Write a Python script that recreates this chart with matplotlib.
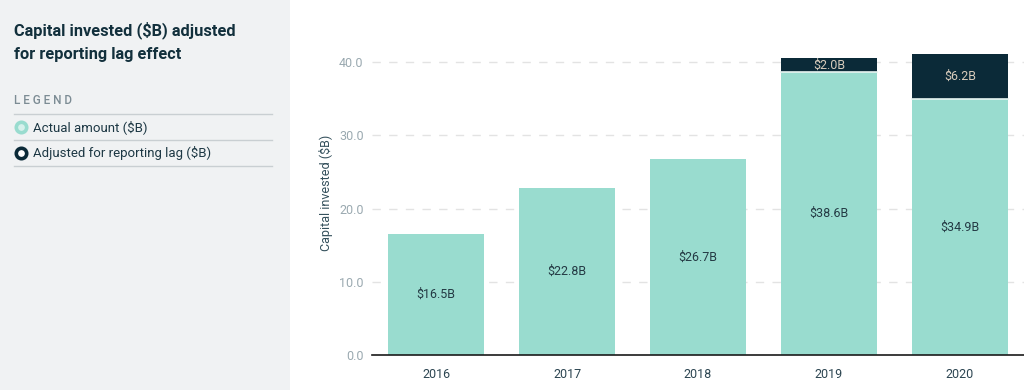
import numpy as np
import matplotlib.pyplot as plt
from matplotlib.lines import Line2D
from matplotlib.patches import Rectangle

plt.rcParams['font.family'] = ['Roboto', 'DejaVu Sans']

# data
years = ['2016', '2017', '2018', '2019', '2020']
actual = [16.5, 22.8, 26.7, 38.6, 34.9]
adjusted = [0.0, 0.0, 0.0, 2.0, 6.2]
yticks = [0.0, 10.0, 20.0, 30.0, 40.0]

teal = '#99dccf'
navy = '#0b2a38'
W, H = 1024, 390

fig = plt.figure(figsize=(W / 100, H / 100), dpi=100)
fig.patch.set_facecolor('white')

# left panel background
fig.patches.append(Rectangle((0, 0), 290 / W, 1, transform=fig.transFigure,
                             facecolor='#f0f2f3', edgecolor='none', zorder=0))

def fx(px):
    return px / W

def fy(py):
    return 1 - py / H

fig.text(fx(14), fy(30), 'Capital invested ($B) adjusted', fontsize=11.8,
         fontweight='bold', color='#12303c', va='center')
fig.text(fx(14), fy(54), 'for reporting lag effect', fontsize=11.8,
         fontweight='bold', color='#12303c', va='center')
fig.text(fx(14), fy(101), 'L E G E N D', fontsize=8.5, color='#7c8c94',
         va='center', fontweight='medium')

for py in [114, 140, 166]:
    fig.add_artist(Line2D([fx(14), fx(272)], [fy(py), fy(py)],
                          color='#c9cfd2', lw=1))

legend_items = [('Actual amount ($B)', teal, '#d6f1ec'),
                ('Adjusted for reporting lag ($B)', navy, 'white')]
for i, (lab, col, inner) in enumerate(legend_items):
    py = 127 + 26 * i
    fig.add_artist(Line2D([fx(21)], [fy(py)], marker='o', markersize=7.5,
                          markerfacecolor=inner, markeredgecolor=col,
                          markeredgewidth=2.6, linestyle='none'))
    fig.text(fx(33), fy(py), lab, fontsize=9.5, color='#1d3844', va='center')

# chart axes
ax_left, ax_right = 372, 1024
ax_top, ax_bot = 30, 355
ax = fig.add_axes([fx(ax_left), fy(ax_bot), (ax_right - ax_left) / W,
                   (ax_bot - ax_top) / H])
ax.set_facecolor('none')

x = np.arange(len(years))
ax.bar(x, actual, width=0.735, color=teal, zorder=2)
ax.bar(x, adjusted, width=0.735, bottom=actual, color=navy,
       edgecolor='none', zorder=2)
# thin light separator at the top of actual bars under the adjusted part
for xi, a, d in zip(x, actual, adjusted):
    if d > 0:
        ax.plot([xi - 0.3675, xi + 0.3675], [a, a], color='#e8f4f1', lw=1.2, zorder=3)

for xi, a in zip(x, actual):
    ax.text(xi, a / 2, f'${a:.1f}B', ha='center', va='center', fontsize=9,
            color='#243a44', zorder=4)
for xi, a, d in zip(x, actual, adjusted):
    if d > 0:
        ax.text(xi, a + d / 2, f'${d:.1f}B', ha='center', va='center',
                fontsize=9, color='#d8ccbc', zorder=4)

ax.set_xlim(-0.49, 4.49)
ax.set_ylim(0, (ax_bot - ax_top) / ((355 - 62) / 40))
ax.set_yticks(yticks)
ax.set_yticklabels([f'{v:.1f}' for v in yticks])
ax.set_xticks(x)
ax.set_xticklabels(years)

ax.yaxis.grid(True, color='#e3e3e3', linestyle=(0, (6, 6)), lw=1, zorder=0)
ax.set_axisbelow(True)
for s in ['top', 'right', 'left']:
    ax.spines[s].set_visible(False)
ax.spines['bottom'].set_color('#1a1a1a')
ax.spines['bottom'].set_linewidth(1.2)
ax.spines['bottom'].set_zorder(5)

ax.tick_params(axis='y', length=0, pad=6, labelsize=9, labelcolor='#9aa9b0')
ax.tick_params(axis='x', length=0, pad=9, labelsize=9, labelcolor='#2c4551')
ax.set_ylabel('Capital invested ($B)', fontsize=9, color='#34505c', labelpad=4)

fig.savefig('out.png', dpi=100, facecolor=fig.get_facecolor())
